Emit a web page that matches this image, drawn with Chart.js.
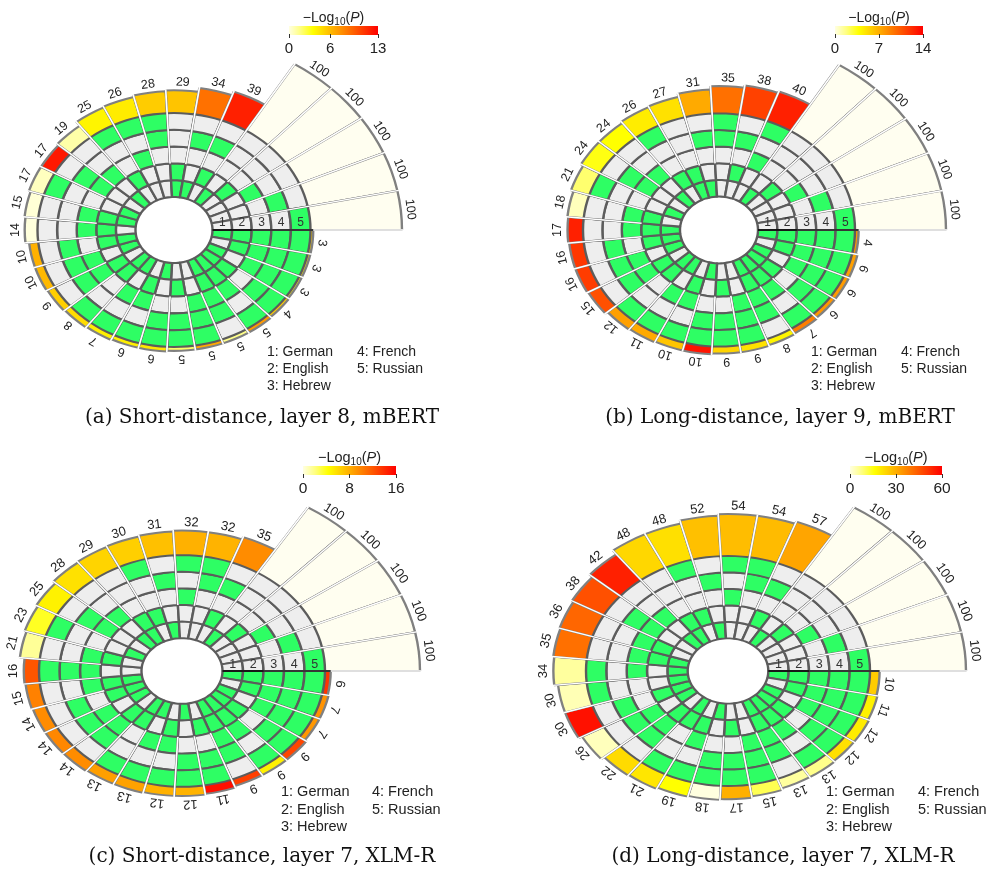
<!DOCTYPE html>
<html><head><meta charset="utf-8">
<script src="https://cdn.jsdelivr.net/npm/chart.js@4.4.1/dist/chart.umd.min.js"></script>
<style>
html,body{margin:0;padding:0;background:#fff;}
body{width:996px;height:883px;position:relative;overflow:hidden;font-family:"Liberation Sans",Arial,sans-serif;color:#222;}
canvas{position:absolute;}
.cbt{position:absolute;font-size:14px;white-space:nowrap;transform:translateX(-50%);line-height:1;}
.cbt sub{font-size:10px;vertical-align:-3px;line-height:0;}
.cbar{position:absolute;height:9px;}
.tick{position:absolute;width:1px;height:4px;background:#333;}
.tl{position:absolute;font-size:15px;transform:translateX(-50%);line-height:1;white-space:nowrap;}
.leg{position:absolute;font-size:14px;line-height:17px;white-space:nowrap;color:#222;}
.cap{position:absolute;font-family:"DejaVu Serif",serif;font-size:20px;white-space:nowrap;transform:translateX(-50%);line-height:1;color:#111;}
</style></head><body>
<script>
// ---------------- DATA ----------------
const LANGS = ["German", "English", "Hebrew", "French", "Russian"];
const TRACK_NUMBERS = ["1", "2", "3", "4", "5"];

// (a) Short-distance, layer 8, mBERT  (sectors counter-clockwise from east)
const sizesA = [100,100,100,100,100,39,34,29,28,26,25,19,17,17,15,14,10,10,9,8,7,6,6,5,5,5,5,4,3,3,3];
const logPA  = [null,null,null,null,null,11.8,8.8,5.7,5.4,4.2,3.9,1.0,12.1,0.6,0.2,0.1,6.4,6.1,5.3,4.8,4.1,4.1,4.4,2.0,6.7,1.5,7.3,5.4,4.2,4.7,5.4];
const setsA  = ["5","4","3","2","1","24","14","12","45","35","25","13","34","15","123","23","124","134","234","125","135","235","145","245","345","1234","1235","1245","1345","2345","12345"];
const ticksA = [0, 6, 13];

// (b) Long-distance, layer 9, mBERT
const sizesB = [100,100,100,100,100,40,38,35,31,27,26,24,24,21,18,17,16,16,15,12,11,10,10,9,9,8,7,6,6,6,4];
const logPB  = [null,null,null,null,null,12.7,11.4,9.5,7.2,5.0,4.5,3.8,3.5,2.1,0.7,12.7,11.8,11.6,10.8,7.6,7.2,6.1,13.2,5.5,5.0,4.2,8.9,8.0,7.8,7.6,7.9];
const setsB  = ["5","4","3","2","1","35","24","45","14","12","25","13","34","15","23","123","124","134","234","125","135","235","145","245","345","1234","1235","1245","1345","2345","12345"];
const ticksB = [0, 7, 14];

// (c) Short-distance, layer 7, XLM-R
const sizesC = [100,100,100,100,100,35,32,32,31,30,29,28,25,23,21,16,15,14,14,14,13,13,12,12,11,9,9,9,7,7,6];
const logPC  = [null,null,null,null,null,9.6,7.8,7.9,7.2,6.5,6.3,5.7,4.9,3.7,1.6,12.1,10.1,9.6,9.8,9.6,8.7,8.6,7.9,7.8,15.3,13.1,5.0,12.8,9.1,9.3,13.6];
const setsC  = ["5","4","3","2","1","24","45","35","14","25","12","13","34","15","23","345","123","124","134","234","125","135","235","145","245","1234","1235","1245","1345","2345","12345"];
const ticksC = [0, 8, 16];

// (d) Long-distance, layer 7, XLM-R
const sizesD = [100,100,100,100,100,57,54,54,52,48,48,42,38,36,35,34,30,30,26,22,21,19,18,17,15,13,13,12,12,11,10];
const logPD  = [null,null,null,null,null,31.7,27.9,27.5,27.0,21.6,23.0,54.5,46.3,42.5,40.8,5.4,3.6,57.0,3.0,22.4,20.5,16.2,0.2,29.8,10.8,5.4,7.0,21.6,19.5,18.5,24.9];
const setsD  = ["5","4","3","2","1","24","45","35","14","25","12","13","34","23","123","135","15","124","134","234","125","235","145","245","345","1234","1235","1245","1345","2345","12345"];
const ticksD = [0, 30, 60];

const CAPTIONS = ["(a) Short-distance, layer 8, mBERT", "(b) Long-distance, layer 9, mBERT",
                  "(c) Short-distance, layer 7, XLM-R", "(d) Long-distance, layer 7, XLM-R"];

// colour scale for -log10(P)
const heatStops = [[0, [255,255,226]], [0.13, [255,255,128]], [0.27, [255,255,0]], [1, [255,0,0]]];
const COLOR_ON = "#2EFE64", COLOR_OFF = "#EEEEEE", COLOR_SINGLE = "#FFFEF0";

// ---------------- HELPERS ----------------
function heat(f) {
  f = Math.max(0, Math.min(1, f));
  for (let i = 1; i < heatStops.length; i++) {
    if (f <= heatStops[i][0]) {
      const [f0, c0] = heatStops[i-1], [f1, c1] = heatStops[i];
      const t = (f - f0) / (f1 - f0);
      return "rgb(" + c0.map((c, j) => Math.round(c + (c1[j] - c) * t)).join(",") + ")";
    }
  }
  return "rgb(255,0,0)";
}
const heatCss = "linear-gradient(to right," + heatStops.map(s => "rgb(" + s[1].join(",") + ") " + (s[0]*100) + "%").join(",") + ")";

function el(tag, cls, html, style) {
  const e = document.createElement(tag);
  if (cls) e.className = cls;
  if (html != null) e.innerHTML = html;
  Object.assign(e.style, style || {});
  document.body.appendChild(e);
  return e;
}
function ellipse(ctx, cx, cy, ratio) { ctx.translate(cx, cy); ctx.scale(1, ratio); ctx.translate(-cx, -cy); }

function buildPanel(data, geo) {
  const n = data.sizes.length;
  const P = 40, S = 2 * geo.D + 2 * P, C = S / 2;
  const left = Math.round(geo.cx - C), top = Math.round(geo.cy - C);
  const sizesR = data.sizes.slice().reverse();
  const logR = data.logP.slice().reverse();
  const setsR = data.sets.slice().reverse();
  const pMax = data.ticks[data.ticks.length - 1];
  const barColors = logR.map(v => v == null ? COLOR_SINGLE : heat(v / pMax));
  const vMax = Math.max(...data.sizes);
  const vMin = -vMax * geo.T / (geo.D - geo.T);

  function mk() {
    const c = document.createElement("canvas");
    c.width = S; c.height = S;
    c.style.left = left + "px"; c.style.top = top + "px";
    c.style.width = S + "px"; c.style.height = S + "px";
    document.body.appendChild(c);
    return c;
  }
  const backPlugin = {
    id: "ellBack",
    beforeDatasetsDraw(chart) {
      const s = chart.scales.r, ctx = chart.ctx;
      ctx.save();
      ellipse(ctx, s.xCenter, s.yCenter, geo.ratio);
      const r0 = s.getDistanceFromCenterForValue(0);
      ctx.beginPath();
      ctx.rect(-S, -3 * S, 3 * S, 7 * S);
      ctx.arc(s.xCenter, s.yCenter, r0, 0, Math.PI * 2, true);
      ctx.clip("evenodd");
    },
    afterDatasetsDraw(chart) { chart.ctx.restore(); }
  };
  const back = new Chart(mk(), {
    type: "polarArea",
    data: { labels: sizesR.map(String),
      datasets: [{ data: sizesR, backgroundColor: barColors, borderColor: "#808080", borderWidth: 2.4 }] },
    options: {
      responsive: false, animation: false, devicePixelRatio: 1, events: [],
      layout: { padding: P },
      plugins: { legend: { display: false }, tooltip: { enabled: false } },
      scales: { r: { min: vMin, max: vMax, startAngle: 90,
        ticks: { display: false }, grid: { display: false }, angleLines: { display: false }, pointLabels: { display: false } } }
    },
    plugins: [backPlugin]
  });

  const frontPlugin = {
    id: "ellFront",
    beforeDatasetsDraw(chart) { const ctx = chart.ctx; ctx.save(); ellipse(ctx, C, C, geo.ratio); },
    afterDatasetsDraw(chart) {
      const ctx = chart.ctx;
      const outer = chart.getDatasetMeta(0).data;
      const nr = chart.data.datasets.length;
      const innerR = chart.getDatasetMeta(nr - 1).data[0].innerRadius;
      const sepR = chart.getDatasetMeta(nr - 3).data[0].innerRadius;
      const bars = back.getDatasetMeta(0).data;
      const x0 = outer[0].x, y0 = outer[0].y;
      ctx.lineCap = "butt";
      ctx.strokeStyle = "#ffffff"; ctx.lineWidth = 1.7;
      for (let i = 0; i < n; i++) {
        const a = outer[i].startAngle;
        const rEnd = Math.max(bars[i].outerRadius, bars[(i + n - 1) % n].outerRadius) + 1.5;
        ctx.beginPath();
        ctx.moveTo(x0 + sepR * Math.cos(a), y0 + sepR * Math.sin(a));
        ctx.lineTo(x0 + rEnd * Math.cos(a), y0 + rEnd * Math.sin(a));
        ctx.stroke();
      }
      const a0 = outer[0].startAngle;
      ctx.strokeStyle = "#000"; ctx.lineWidth = 1.6;
      ctx.beginPath();
      ctx.moveTo(x0 + innerR * Math.cos(a0), y0 + innerR * Math.sin(a0));
      ctx.lineTo(x0 + bars[0].outerRadius * Math.cos(a0), y0 + bars[0].outerRadius * Math.sin(a0));
      ctx.stroke();
      ctx.restore();
    },
    afterDraw(chart) {
      const ctx = chart.ctx;
      const bars = back.getDatasetMeta(0).data;
      const x0 = C, y0 = C;
      ctx.save();
      ctx.fillStyle = "#222";
      ctx.font = geo.font + "px 'Liberation Sans', Arial, sans-serif";
      ctx.textAlign = "center"; ctx.textBaseline = "middle";
      bars.forEach((b, i) => {
        const a = (b.startAngle + b.endAngle) / 2;
        const rho = b.outerRadius + geo.gap;
        const x = x0 + rho * Math.cos(a), y = y0 + rho * geo.ratio * Math.sin(a);
        const rot = Math.atan2(Math.sin(a) / geo.ratio, Math.cos(a)) + Math.PI / 2;
        ctx.save(); ctx.translate(x, y); ctx.rotate(rot);
        ctx.fillText(String(sizesR[i]), 0, 0);
        ctx.restore();
      });
      // track numbers inside the first sector
      ctx.font = (geo.font - 0.5) + "px 'Liberation Sans', Arial, sans-serif";
      ctx.fillStyle = "#333";
      const nr = chart.data.datasets.length;
      for (let d = 0; d < nr; d++) {
        const arc = chart.getDatasetMeta(d).data[n - 1];
        const rm = (arc.innerRadius + arc.outerRadius) / 2;
        ctx.fillText(TRACK_NUMBERS[nr - 1 - d], x0 + rm, y0 - geo.numDy);
      }
      ctx.restore();
    }
  };
  const tracks = [5, 4, 3, 2, 1].map(t => ({
    data: sizesR.map(() => 1),
    backgroundColor: setsR.map(s => s.indexOf(String(t)) >= 0 ? COLOR_ON : COLOR_OFF),
    borderColor: "#5c5c5c", borderWidth: 2.4
  }));
  new Chart(mk(), {
    type: "doughnut",
    data: { labels: sizesR.map(String), datasets: tracks },
    options: {
      responsive: false, animation: false, devicePixelRatio: 1, events: [],
      layout: { padding: P },
      rotation: 90, radius: geo.T, cutout: (geo.H / geo.T * 100) + "%",
      plugins: { legend: { display: false }, tooltip: { enabled: false } }
    },
    plugins: [frontPlugin]
  });

  // colour bar
  const cb = geo.cb;
  el("div", "cbt", "\u2212Log<sub>10</sub>(<i>P</i>)", { left: (cb.x + cb.w / 2) + "px", top: (cb.y - 16) + "px", fontSize: geo.cbFont + "px" });
  el("div", "cbar", null, { left: cb.x + "px", top: cb.y + "px", width: cb.w + "px", background: heatCss });
  data.ticks.forEach(v => {
    const x = cb.x + cb.w * v / pMax;
    el("div", "tick", null, { left: (x - 0.5) + "px", top: (cb.y + 8) + "px" });
    el("div", "tl", String(v), { left: x + "px", top: (cb.y + 14) + "px", fontSize: geo.tlFont + "px" });
  });
  // legend
  const lg = geo.leg;
  LANGS.forEach((name, i) => {
    const col = i < 3 ? 0 : 1, row = i < 3 ? i : i - 3;
    el("div", "leg", (i + 1) + ": " + name, { left: (col ? lg.x2 : lg.x) + "px", top: (lg.y + row * lg.dy) + "px", fontSize: geo.legFont + "px" });
  });
  // caption
  el("div", "cap", data.caption, { left: geo.capX + "px", top: geo.capY + "px" });
}

buildPanel({ sizes: sizesA, logP: logPA, sets: setsA, ticks: ticksA, caption: CAPTIONS[0] },
  { cx: 174, cy: 230, T: 136.5, H: 38.5, D: 228, ratio: 0.857, font: 12.5, gap: 9.5, numDy: 7.5,
    cb: { x: 289, y: 26, w: 89 }, cbFont: 14, tlFont: 15, leg: { x: 267, x2: 357, y: 343, dy: 17 }, legFont: 14, capX: 262, capY: 406 });
buildPanel({ sizes: sizesB, logP: logPB, sets: setsB, ticks: ticksB, caption: CAPTIONS[1] },
  { cx: 719, cy: 230, T: 136, H: 39, D: 227, ratio: 0.857, font: 12.5, gap: 9.5, numDy: 7.5,
    cb: { x: 835, y: 26, w: 88 }, cbFont: 14, tlFont: 15, leg: { x: 811, x2: 901, y: 343, dy: 17 }, legFont: 14, capX: 780, capY: 406 });
buildPanel({ sizes: sizesC, logP: logPC, sets: setsC, ticks: ticksC, caption: CAPTIONS[2] },
  { cx: 182, cy: 671, T: 143, H: 40.5, D: 238, ratio: 0.81, font: 13, gap: 10, numDy: 6,
    cb: { x: 303, y: 466, w: 93 }, cbFont: 14.5, tlFont: 15.5, leg: { x: 281, x2: 372, y: 783, dy: 17.5 }, legFont: 14.5, capX: 262, capY: 845 });
buildPanel({ sizes: sizesD, logP: logPD, sets: setsD, ticks: ticksD, caption: CAPTIONS[3] },
  { cx: 728, cy: 671, T: 142, H: 40.3, D: 238, ratio: 0.81, font: 13, gap: 10, numDy: 6,
    cb: { x: 850, y: 466, w: 92 }, cbFont: 14.5, tlFont: 15.5, leg: { x: 826, x2: 918, y: 783, dy: 17.5 }, legFont: 14.5, capX: 783, capY: 845 });
</script>
</body></html>
